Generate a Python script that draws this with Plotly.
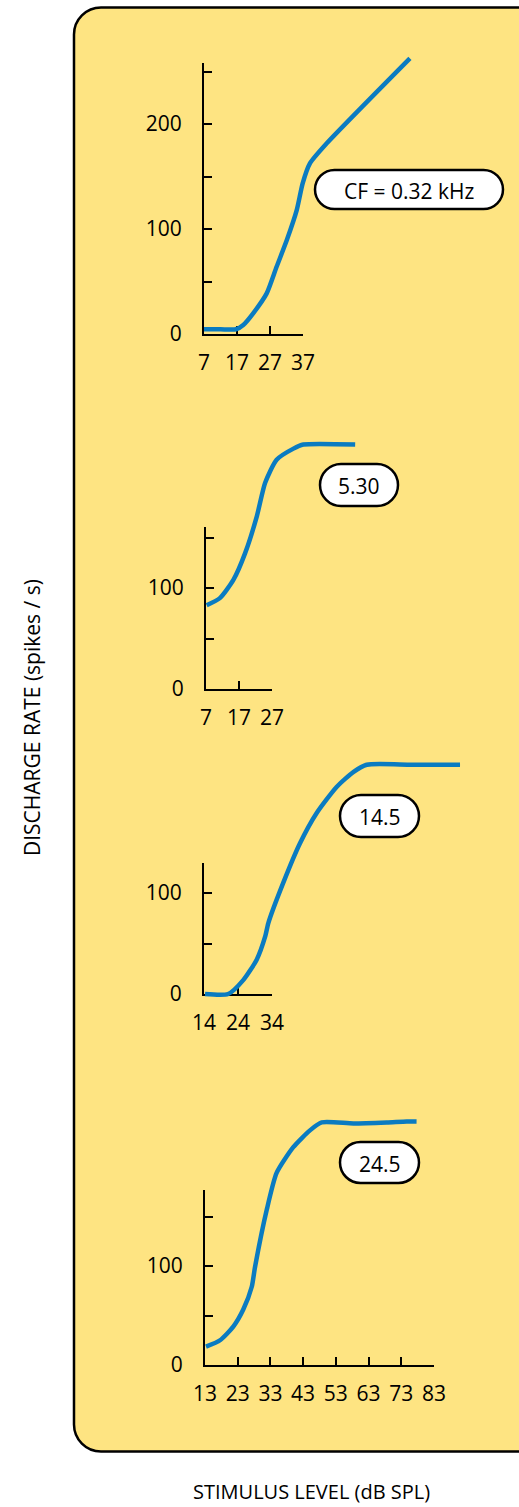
import plotly.graph_objects as go

FIG_W, FIG_H = 519, 1507
FONT = "Open Sans"
CURVE_BLUE = "#0A7BC1"
PANEL_YELLOW = "#FEE482"

# ---- rate-level functions (stimulus level in dB SPL, discharge rate in spikes/s) ----
cf_labels = ["CF = 0.32 kHz", "5.30", "14.5", "24.5"]

level_1 = [7, 12, 16.7, 18.9, 21.9, 26.0, 29.0, 32.1, 35.1, 36.9, 39.1, 44.2, 69.4]
rate_1 = [4.5, 4.5, 4.5, 8.6, 19.7, 38.7, 64, 89.5, 118, 143.5, 162.5, 181.6, 262.5]

level_2 = [7.2, 11.2, 15.3, 18.8, 22.4, 24.9, 28.4, 33.5, 36.5, 52.2]
rate_2 = [83, 90, 108, 134, 171, 204, 227, 238, 242, 242]

level_3 = [14.3, 21.1, 25.6, 29.5, 32.0, 32.9, 37.3, 42.2, 47.1, 53.0, 58.0, 61.9, 75.0, 89.3]
rate_3 = [0, 0, 14, 34, 57, 70, 110, 149, 179, 205, 220, 227, 227, 227]

level_4 = [13.3, 17.6, 21.7, 24.7, 27.3, 28.3, 31.9, 34.9, 40.0, 45.1, 48.7, 58.4, 68.6, 74.7, 77.7]
rate_4 = [18.5, 25, 39, 56, 79, 99, 157, 194, 220, 237, 245, 244, 245, 246, 246]

levels = [level_1, level_2, level_3, level_4]
rates = [rate_1, rate_2, rate_3, rate_4]

# ---- tick marks of each small axis frame ----
x_ticks = [
    [7, 17, 27, 37],
    [7, 17, 27],
    [14, 24, 34],
    [13, 23, 33, 43, 53, 63, 73, 83],
]
y_ticks = [
    [0, 50, 100, 150, 200, 250],
    [0, 50, 100, 150],
    [0, 50, 100],
    [0, 50, 100, 150],
]
y_tick_text = [
    ["0", "", "100", "", "200", ""],
    ["0", "", "100", ""],
    ["0", "", "100"],
    ["0", "", "100", ""],
]
y_axis_top = [258, 160, 130, 177]

# ---- placement of each panel (pixels) ----
origin_px = [(204, 334), (206, 689), (204, 994), (205, 1365)]   # axis corner
px_per_db = [3.3, 3.3, 3.4, 3.27]
px_per_rate = [1.05, 1.01, 1.01, 0.99]
label_box_px = [(315, 503, 170, 209), (320, 398, 464, 506),
                (340, 419, 795, 837), (340, 419, 1142, 1183)]


def px_x(px):
    return px / FIG_W


def px_y(py):
    return 1 - py / FIG_H


def _path(pts, close=True):
    out = []
    for cmd, pl in pts:
        out.append(cmd + " ".join(f"{px_x(a):.5f},{px_y(b):.5f}" for a, b in pl))
    return " ".join(out) + (" Z" if close else "")


def pill_path(x0, x1, y0, y1):
    """Rounded-end box as an SVG path in paper coordinates."""
    r = (y1 - y0) / 2
    yc = (y0 + y1) / 2
    k = 0.5523 * r
    return _path([
        ("M", [(x0 + r, y0)]),
        ("L", [(x1 - r, y0)]),
        ("C", [(x1 - r + k, y0), (x1, yc - k), (x1, yc)]),
        ("C", [(x1, yc + k), (x1 - r + k, y1), (x1 - r, y1)]),
        ("L", [(x0 + r, y1)]),
        ("C", [(x0 + r - k, y1), (x0, yc + k), (x0, yc)]),
        ("C", [(x0, yc - k), (x0 + r - k, y0), (x0 + r, y0)]),
    ])


def panel_path(x0, x_edge, y0, y1, r):
    """Background card: rounded on the left, running off the right edge."""
    k = 0.5523 * r
    return _path([
        ("M", [(x_edge, y0)]),
        ("L", [(x0 + r, y0)]),
        ("C", [(x0 + r - k, y0), (x0, y0 + r - k), (x0, y0 + r)]),
        ("L", [(x0, y1 - r)]),
        ("C", [(x0, y1 - r + k), (x0 + r - k, y1), (x0 + r, y1)]),
        ("L", [(x_edge, y1)]),
    ], close=False)


fig = go.Figure()
layout_axes = {}
shapes = [
    dict(type="path", path=panel_path(74, FIG_W, 7.5, 1451.5, 27),
         xref="paper", yref="paper", fillcolor=PANEL_YELLOW,
         line=dict(color="black", width=2.5), layer="below"),
]
annotations = []

tick_font = dict(family=FONT, size=21, color="black")

for i in range(4):
    ox, oy = origin_px[i]
    sx, sy = px_per_db[i], px_per_rate[i]
    xt, yt = x_ticks[i], y_ticks[i]

    # frame axes: short L-shaped axes with ticks and labels
    fx, fy = f"x{i + 1}", f"y{i + 1}"
    fx_len = (xt[-1] - xt[0]) * sx
    fy_len = y_axis_top[i] * sy
    layout_axes[f"xaxis{i + 1}"] = dict(
        domain=[px_x(ox), px_x(ox + fx_len)], range=[xt[0], xt[-1]],
        anchor=fy, showline=True, linecolor="black", linewidth=2,
        ticks="inside", ticklen=8, tickwidth=2, tickcolor="black",
        tickvals=xt, ticktext=[str(v) for v in xt], tickfont=tick_font,
        ticklabelstandoff=9, showgrid=False, zeroline=False, fixedrange=True,
        automargin=False,
    )
    layout_axes[f"yaxis{i + 1}"] = dict(
        domain=[px_y(oy), px_y(oy - fy_len)], range=[0, y_axis_top[i]],
        anchor=fx, showline=True, linecolor="black", linewidth=2,
        ticks="inside", ticklen=8, tickwidth=2, tickcolor="black",
        tickvals=yt, ticktext=y_tick_text[i], tickfont=tick_font,
        ticklabelstandoff=16, showgrid=False, zeroline=False, fixedrange=True,
        automargin=False,
    )
    fig.add_trace(go.Scatter(x=[], y=[], xaxis=fx, yaxis=fy, showlegend=False))

    # data axes: same scale, wider area so the curve may run past the frame
    dx, dy = f"x{i + 5}", f"y{i + 5}"
    pad = 12
    d_right = FIG_W - 4
    d_top = oy - 300
    layout_axes[f"xaxis{i + 5}"] = dict(
        domain=[px_x(ox - pad), px_x(d_right)],
        range=[xt[0] - pad / sx, xt[0] + (d_right - ox) / sx],
        anchor=dy, visible=False, fixedrange=True, automargin=False,
    )
    layout_axes[f"yaxis{i + 5}"] = dict(
        domain=[px_y(oy + pad), px_y(d_top)],
        range=[-pad / sy, (oy - d_top) / sy],
        anchor=dx, visible=False, fixedrange=True, automargin=False,
    )
    fig.add_trace(go.Scatter(
        x=levels[i], y=rates[i], xaxis=dx, yaxis=dy, mode="lines",
        line=dict(color=CURVE_BLUE, width=4.5, shape="spline", smoothing=0.6),
        showlegend=False, hoverinfo="skip",
    ))

    # characteristic-frequency label in a rounded box
    bx0, bx1, by0, by1 = label_box_px[i]
    shapes.append(dict(type="path", path=pill_path(bx0, bx1, by0, by1),
                       xref="paper", yref="paper", fillcolor="white",
                       line=dict(color="black", width=2.5), layer="above"))
    annotations.append(dict(
        x=px_x((bx0 + bx1) / 2), y=px_y((by0 + by1) / 2 + 1), xref="paper", yref="paper",
        text=cf_labels[i], showarrow=False, xanchor="center", yanchor="middle",
        font=dict(family=FONT, size=21, color="black"),
    ))

annotations.append(dict(
    x=px_x(32), y=px_y(718), xref="paper", yref="paper",
    text="DISCHARGE RATE (spikes / s)", textangle=-90, showarrow=False,
    xanchor="center", yanchor="middle",
    font=dict(family=FONT, size=21, color="black"),
))
annotations.append(dict(
    x=px_x(311), y=px_y(1491), xref="paper", yref="paper",
    text="STIMULUS LEVEL (dB SPL)", showarrow=False,
    xanchor="center", yanchor="middle",
    font=dict(family=FONT, size=20, color="black"),
))

fig.update_layout(
    template="none",
    width=FIG_W, height=FIG_H,
    margin=dict(l=0, r=0, t=0, b=0, pad=0),
    paper_bgcolor="white", plot_bgcolor="rgba(0,0,0,0)",
    shapes=shapes, annotations=annotations,
    showlegend=False,
    **layout_axes,
)

fig.write_html("out.html")
